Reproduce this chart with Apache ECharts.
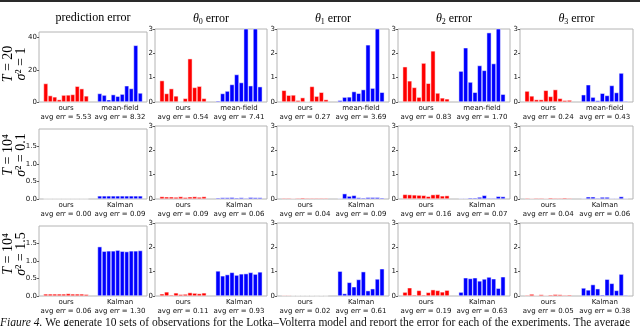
<!DOCTYPE html>
<html>
<head>
<meta charset="utf-8" />
<title>Lotka-Volterra errors</title>
<script src="https://cdn.jsdelivr.net/npm/echarts@6/dist/echarts.min.js"></script>
<style>
html, body { margin: 0; padding: 0; background: #fff; }
#main { width: 640px; height: 326px; }
</style>
</head>
<body>
<div id="main"></div>
<script>
// column titles
var colTitles = ['prediction error', '0', '1', '2', '3'];
// row labels (T, sigma^2)
var rowT = ['20', '10\u2074', '10\u2074'];
var rowSigma = ['1', '0.1', '1.5'];
var groupNames = [['ours', 'mean-field'], ['ours', 'Kalman'], ['ours', 'Kalman']];

// row 1: T = 20, sigma^2 = 1
var r1_pred_ours = [11.5, 4.0, 3.2, 1.5, 4.3, 4.4, 4.7, 9.8, 8.3, 3.8];
var r1_pred_base = [5.3, 4.3, 1.4, 4.6, 3.6, 4.9, 10.1, 8.4, 35.2, 5.6];
var r1_t0_ours = [0.88, 0.35, 0.55, 0.25, 0.0, 0.15, 1.78, 0.6, 0.65, 0.15];
var r1_t0_base = [0.05, 0.35, 0.45, 0.72, 1.13, 0.8, 41.2, 0.67, 28.1, 0.63];
var r1_t1_ours = [0.48, 0.28, 0.29, 0.07, 0.18, 0.02, 0.64, 0.24, 0.4, 0.1];
var r1_t1_base = [0.07, 0.2, 0.21, 0.43, 0.36, 0.51, 2.35, 0.57, 31.8, 0.4];
var r1_t2_ours = [1.45, 0.87, 0.6, 0.2, 1.6, 0.77, 2.1, 0.37, 0.17, 0.13];
var r1_t2_base = [1.27, 2.23, 0.82, 0.4, 1.5, 1.3, 2.85, 1.58, 4.73, 0.32];
var r1_t3_ours = [0.45, 0.25, 0.1, 0.1, 0.48, 0.23, 0.51, 0.15, 0.07, 0.08];
var r1_t3_base = [0.3, 0.71, 0.2, 0.06, 0.36, 0.27, 0.68, 0.39, 1.19, 0.04];

// row 2: T = 10^4, sigma^2 = 0.1
var r2_pred_ours = [0.004, 0.004, 0.004, 0.004, 0.004, 0.004, 0.004, 0.004, 0.004, 0.004];
var r2_pred_base = [0.09, 0.09, 0.09, 0.09, 0.09, 0.09, 0.09, 0.09, 0.09, 0.09];
var r2_t0_ours = [0.1, 0.09, 0.09, 0.08, 0.1, 0.07, 0.09, 0.1, 0.08, 0.1];
var r2_t0_base = [0.05, 0.06, 0.06, 0.07, 0.05, 0.06, 0.04, 0.07, 0.06, 0.06];
var r2_t1_ours = [0.04, 0.04, 0.03, 0.04, 0.05, 0.04, 0.04, 0.04, 0.04, 0.04];
var r2_t1_base = [0.03, 0.22, 0.12, 0.15, 0.06, 0.05, 0.07, 0.07, 0.07, 0.05];
var r2_t2_ours = [0.19, 0.18, 0.17, 0.16, 0.15, 0.11, 0.18, 0.19, 0.13, 0.14];
var r2_t2_base = [0.03, 0.03, 0.05, 0.05, 0.08, 0.15, 0.04, 0.04, 0.11, 0.1];
var r2_t3_ours = [0.04, 0.03, 0.04, 0.04, 0.03, 0.05, 0.04, 0.04, 0.05, 0.04];
var r2_t3_base = [0.03, 0.09, 0.09, 0.04, 0.08, 0.08, 0.03, 0.03, 0.1, 0.03];

// row 3: T = 10^4, sigma^2 = 1.5
var r3_pred_ours = [0.06, 0.06, 0.06, 0.06, 0.06, 0.07, 0.06, 0.06, 0.06, 0.05];
var r3_pred_base = [1.41, 1.28, 1.29, 1.29, 1.31, 1.28, 1.27, 1.29, 1.29, 1.3];
var r3_t0_ours = [0.09, 0.17, 0.05, 0.13, 0.07, 0.08, 0.14, 0.12, 0.1, 0.13];
var r3_t0_base = [1.03, 0.83, 0.88, 0.97, 0.86, 0.91, 0.92, 0.97, 0.9, 0.99];
var r3_t1_ours = [0.03, 0.03, 0.02, 0.02, 0.02, 0.02, 0.02, 0.01, 0.02, 0.01];
var r3_t1_base = [1.02, 0.1, 0.56, 0.38, 0.68, 1.0, 0.22, 0.3, 0.7, 1.12];
var r3_t2_ours = [0.16, 0.34, 0.05, 0.23, 0.05, 0.15, 0.26, 0.23, 0.17, 0.24];
var r3_t2_base = [0.16, 0.75, 0.72, 0.75, 0.62, 0.7, 0.78, 0.71, 0.32, 0.79];
var r3_t3_ours = [0.04, 0.08, 0.03, 0.06, 0.03, 0.05, 0.07, 0.06, 0.04, 0.05];
var r3_t3_base = [0.33, 0.25, 0.47, 0.3, 0.05, 0.69, 0.52, 0.23, 0.9, 0.04];

// average errors printed under each group
var r1_avg = [['5.53', '8.32'], ['0.54', '7.41'], ['0.27', '3.69'], ['0.83', '1.70'], ['0.24', '0.43']];
var r2_avg = [['0.00', '0.09'], ['0.09', '0.06'], ['0.04', '0.09'], ['0.16', '0.07'], ['0.04', '0.06']];
var r3_avg = [['0.06', '1.30'], ['0.11', '0.93'], ['0.02', '0.61'], ['0.19', '0.63'], ['0.05', '0.38']];

// y-axis range per row for the prediction column, theta columns use 0..3
var predMax = [43.5, 2.0, 2.0];
var predInterval = [20, 0.5, 0.5];
var thetaMax = 3;

var panels = [
	[[r1_pred_ours, r1_pred_base], [r1_t0_ours, r1_t0_base], [r1_t1_ours, r1_t1_base], [r1_t2_ours, r1_t2_base], [r1_t3_ours, r1_t3_base]],
	[[r2_pred_ours, r2_pred_base], [r2_t0_ours, r2_t0_base], [r2_t1_ours, r2_t1_base], [r2_t2_ours, r2_t2_base], [r2_t3_ours, r2_t3_base]],
	[[r3_pred_ours, r3_pred_base], [r3_t0_ours, r3_t0_base], [r3_t1_ours, r3_t1_base], [r3_t2_ours, r3_t2_base], [r3_t3_ours, r3_t3_base]]
];
var avgs = [r1_avg, r2_avg, r3_avg];

var cols = [{l: 39, w: 108}, {l: 155, w: 112}, {l: 277, w: 112}, {l: 398, w: 112}, {l: 520, w: 113}];
var rowTop = [29, 126, 223];
var rowH = 73;

var sans = 'DejaVu Sans';
var serif = 'Liberation Serif, DejaVu Serif, serif';

// 24 slots: 1 empty, 10 ours, 2 empty, 10 baseline, 1 empty
function slotNames() {
	var s = [];
	for (var k = 0; k < 24; k++) s.push('s' + k);
	return s;
}
function padOurs(v) {
	var out = ['-'];
	for (var i = 0; i < v.length; i++) out.push(v[i]);
	while (out.length < 24) out.push('-');
	return out;
}
function padBase(v) {
	var out = [];
	for (var i = 0; i < 13; i++) out.push('-');
	for (var j = 0; j < v.length; j++) out.push(v[j]);
	out.push('-');
	return out;
}
function oneDecimal(v) { return v.toFixed(1); }

var grids = [], xAxes = [], yAxes = [], series = [], titles = [];

for (var r = 0; r < 3; r++) {
	for (var c = 0; c < 5; c++) {
		var gi = grids.length;
		var gTop = rowTop[r] + (c == 0 ? 3 : 0);
		grids.push({
			left: cols[c].l, top: gTop, width: cols[c].w, height: rowTop[r] + rowH - gTop,
			show: true, borderColor: '#b4b4b4', borderWidth: 1, backgroundColor: '#fff'
		});
		xAxes.push({
			type: 'category', gridIndex: gi, data: slotNames(), position: 'bottom',
			axisLine: {show: false}, axisTick: {show: false}, axisLabel: {show: false}
		});
		xAxes.push({
			type: 'category', gridIndex: gi, position: 'bottom',
			data: [
				groupNames[r][0] + '\navg err = ' + avgs[r][c][0],
				groupNames[r][1] + '\navg err = ' + avgs[r][c][1]
			],
			axisLine: {show: false}, axisTick: {show: false},
			axisLabel: {show: true, interval: 0, margin: 2, fontSize: 7, lineHeight: 9, fontFamily: sans, color: '#111'}
		});
		var isPred = c == 0;
		var yLabel = {margin: 2, fontSize: 7, fontFamily: sans, color: '#111', showMaxLabel: !isPred};
		if (isPred && r > 0) yLabel.formatter = oneDecimal;
		yAxes.push({
			type: 'value', gridIndex: gi, min: 0,
			max: isPred ? predMax[r] : thetaMax,
			interval: isPred ? predInterval[r] : 1,
			axisLine: {show: false},
			axisTick: {show: true, length: 2, lineStyle: {color: '#333', width: 0.8}},
			splitLine: {show: false},
			axisLabel: yLabel
		});
		series.push({
			type: 'bar', xAxisIndex: gi * 2, yAxisIndex: gi, data: padOurs(panels[r][c][0]),
			barGap: '-100%', barWidth: '100%', silent: true,
			itemStyle: {color: '#ff0000', borderColor: '#fff', borderWidth: 0.5}
		});
		series.push({
			type: 'bar', xAxisIndex: gi * 2, yAxisIndex: gi, data: padBase(panels[r][c][1]),
			barGap: '-100%', barWidth: '100%', silent: true,
			itemStyle: {color: '#0000ff', borderColor: '#fff', borderWidth: 0.5}
		});
	}
}

function titleRich() {
	return {
		t: {fontStyle: 'italic', fontSize: 12, fontFamily: serif, color: '#000', lineHeight: 14},
		s: {fontSize: 8, fontFamily: serif, color: '#000', lineHeight: 8, verticalAlign: 'bottom'},
		r: {fontSize: 12, fontFamily: serif, color: '#000', lineHeight: 14}
	};
}
for (var ci = 0; ci < 5; ci++) {
	titles.push({
		text: ci == 0 ? colTitles[0] : '{t|\u03b8}{s|' + colTitles[ci] + '}{r| error}',
		left: cols[ci].l + cols[ci].w / 2, top: 12, textAlign: 'center', padding: 0,
		textStyle: {fontSize: 12, fontWeight: 'normal', fontFamily: serif, color: '#000', rich: titleRich()}
	});
}

function rowRich() {
	return {
		i: {fontStyle: 'italic', fontSize: 14, fontFamily: serif, fill: '#000'},
		n: {fontSize: 14, fontFamily: serif, fill: '#000'}
	};
}
var rowCenter = [64, 155, 254];
var graphics = [
	{type: 'rect', shape: {x: 0, y: 0, width: 640, height: 2}, style: {fill: '#2a2a2a'}},
	{
		type: 'text', x: 0, y: 317,
		style: {
			text: '{i|Figure 4.}{n| We generate 10 sets of observations for the Lotka\u2013Volterra model and report the error for each of the experiments. The average}',
			rich: {
				i: {fontStyle: 'italic', fontSize: 11.5, fontFamily: serif, fill: '#111'},
				n: {fontSize: 11.5, fontFamily: serif, fill: '#111'}
			},
			verticalAlign: 'top'
		}
	}
];
for (var ri = 0; ri < 3; ri++) {
	graphics.push({
		type: 'text', x: 8, y: rowCenter[ri], rotation: Math.PI / 2,
		style: {text: '{i|T}{n| = ' + rowT[ri] + '}', rich: rowRich(), align: 'center', verticalAlign: 'middle'}
	});
	graphics.push({
		type: 'text', x: 21, y: rowCenter[ri], rotation: Math.PI / 2,
		style: {text: '{i|\u03c3}{n|\u00b2 = ' + rowSigma[ri] + '}', rich: rowRich(), align: 'center', verticalAlign: 'middle'}
	});
}

var chart = echarts.init(document.getElementById('main'), null, {renderer: 'canvas'});
chart.setOption({
	animation: false,
	backgroundColor: '#fff',
	title: titles,
	grid: grids,
	xAxis: xAxes,
	yAxis: yAxes,
	series: series,
	graphic: graphics
});
</script>
</body>
</html>
